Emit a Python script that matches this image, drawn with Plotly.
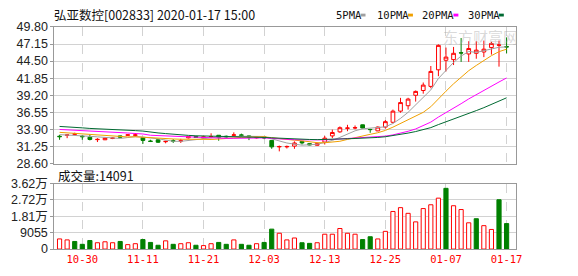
import plotly.graph_objects as go
import pandas as pd

# ---------------- data ----------------
dates = ["10-25", "10-28", "10-29", "10-30", "10-31", "11-01", "11-04", "11-05", "11-06", "11-07",
         "11-08", "11-11", "11-12", "11-13", "11-14", "11-15", "11-18", "11-19", "11-20", "11-21",
         "11-22", "11-25", "11-26", "11-27", "11-28", "11-29", "12-02", "12-03", "12-04", "12-05",
         "12-06", "12-09", "12-10", "12-11", "12-12", "12-13", "12-16", "12-17", "12-18", "12-19",
         "12-20", "12-23", "12-24", "12-25", "12-26", "12-27", "12-30", "12-31", "01-02", "01-03",
         "01-06", "01-07", "01-08", "01-09", "01-10", "01-13", "01-14", "01-15", "01-16", "01-17"]

opens = [32.85, 33.00, 33.15, 32.85, 32.70, 32.32, 32.30, 32.52, 32.90, 33.00,
         33.00, 32.65, 32.10, 32.30, 32.00, 32.15, 32.10, 32.60, 32.80, 32.55,
         32.75, 33.00, 32.85, 33.00, 33.05, 32.90, 32.60, 32.75, 32.20, 31.20,
         31.20, 31.31, 32.05, 31.70, 31.45, 31.95, 32.90, 33.53, 34.08, 34.13,
         34.62, 33.90, 33.68, 34.27, 35.01, 36.74, 37.58, 39.20, 39.94, 40.58,
         43.15, 44.63, 44.73, 45.80, 45.61, 45.71, 45.91, 46.60, 46.97, 46.75]
highs = [33.05, 33.15, 33.40, 33.05, 33.15, 32.55, 32.60, 32.70, 32.95, 33.15,
         33.35, 32.70, 32.30, 32.40, 32.15, 32.40, 32.45, 32.85, 32.85, 32.80,
         33.30, 33.00, 32.95, 33.45, 33.25, 32.95, 32.80, 32.80, 32.25, 31.40,
         31.40, 32.05, 32.05, 31.75, 31.90, 32.90, 33.88, 34.37, 34.62, 34.52,
         34.65, 34.00, 34.37, 35.36, 36.98, 38.80, 38.81, 39.94, 41.18, 43.74,
         47.09, 46.60, 46.70, 48.08, 47.58, 47.58, 47.68, 47.49, 47.68, 48.18]
lows = [32.30, 32.55, 33.05, 32.30, 32.20, 31.95, 32.25, 32.40, 32.65, 32.90,
        32.75, 31.66, 31.95, 31.80, 31.75, 31.81, 31.81, 32.50, 32.60, 32.50,
        32.55, 32.15, 32.60, 32.90, 32.80, 32.25, 32.50, 32.40, 30.90, 30.50,
        30.95, 30.90, 31.56, 31.45, 31.40, 31.56, 32.55, 33.38, 33.63, 33.93,
        34.05, 33.38, 33.63, 34.02, 34.86, 36.50, 36.98, 38.22, 39.45, 40.29,
        42.16, 42.90, 43.89, 44.38, 44.38, 44.87, 45.12, 45.51, 43.64, 45.71]
closes = [32.78, 33.05, 33.22, 32.78, 32.35, 32.36, 32.55, 32.56, 32.70, 33.06,
          33.05, 32.20, 32.05, 31.92, 32.05, 32.10, 32.15, 32.80, 32.65, 32.75,
          32.80, 32.65, 32.75, 33.05, 33.00, 32.72, 32.70, 32.60, 31.20, 31.25,
          31.26, 31.80, 31.81, 31.50, 31.70, 32.55, 33.43, 34.17, 34.12, 34.17,
          34.12, 33.88, 34.27, 35.11, 36.74, 38.07, 38.61, 39.80, 40.78, 42.90,
          46.94, 45.12, 45.71, 45.76, 46.45, 46.20, 46.35, 47.24, 47.00, 46.70]

volumes = [5600, 5070, 4200, 2620, 4720, 3500, 4020, 3500, 4200, 2450,
           2970, 5250, 3670, 2100, 4550, 2620, 2970, 3500, 2100, 1920,
           2970, 3670, 2620, 5070, 2620, 2100, 2970, 3670, 11020, 8750,
           5070, 6120, 3500, 3150, 3500, 8220, 8220, 11370, 8750, 8220,
           5250, 6820, 5600, 9800, 20800, 22900, 19760, 15040, 22390, 24490,
           28160, 33580, 23960, 21860, 14520, 16790, 12940, 10840, 27280, 14091]
vol_up = [1, 1, 0, 0, 0, 1, 1, 1, 0, 1, 1, 0, 0, 0, 1, 0, 1, 1, 0, 1,
          1, 0, 0, 1, 0, 0, 1, 0, 0, 1, 1, 1, 0, 0, 1, 1, 1, 1, 1, 1,
          0, 0, 1, 1, 1, 1, 1, 1, 1, 1, 1, 0, 1, 1, 1, 0, 1, 1, 0, 0]

# moving-average values at the start of the window (read from the chart,
# the windows reach back before the first visible day)
ma5_head = [33.10, 33.05, 33.05, 32.95]
ma10_head = [33.45, 33.38, 33.30, 33.20, 33.10, 33.00, 32.92, 32.85, 32.80]
ma20_head = [33.90, 33.85, 33.75, 33.70, 33.62, 33.58, 33.55, 33.45, 33.40, 33.35,
             33.27, 33.20, 33.00, 32.95, 32.90, 32.80, 32.75, 32.70, 32.62]
ma30_head = [34.37, 34.33, 34.22, 34.15, 34.06, 34.02, 33.97, 33.90, 33.86, 33.83,
             33.72, 33.65, 33.45, 33.36, 33.26, 33.14, 33.02, 32.98, 32.92, 32.90,
             32.88, 32.82, 32.80, 32.78, 32.72, 32.70, 32.68, 32.66, 32.60]

tick_dates = ["10-30", "11-11", "11-21", "12-03", "12-13", "12-25", "01-07", "01-17"]
price_ticks = [28.60, 31.25, 33.90, 36.55, 39.20, 41.85, 44.50, 47.15, 49.80]
vol_ticks = [0, 9055, 18110, 27165, 36220]
vol_tick_text = ["0", "9055", "1.81万", "2.72万", "3.62万"]

ma_names = ["5PMA", "10PMA", "20PMA", "30PMA"]
ma_colors = ["#a0a0a0", "#f0a000", "#ff00ff", "#006a32"]

title_text = "弘亚数控[002833] 2020-01-17 15:00"

# ---------------- derived ----------------
idx = list(range(len(dates)))
cs = pd.Series(closes)


def moving_average(n, head):
    roll = cs.rolling(n).mean().tolist()
    return [head[i] if i < n - 1 else roll[i] for i in range(len(closes))]


mas = [moving_average(5, ma5_head), moving_average(10, ma10_head),
       moving_average(20, ma20_head), moving_average(30, ma30_head)]

W, H = 578, 276
X0, X1 = 55, 522
PY0, PY1 = 21, 165
VY0, VY1 = 186, 255
RED = "#ff0000"
GREEN = "#008000"
GRID = "#d2d2d2"
FRAME = "#999999"
LATIN = "Liberation Sans"
CJK = "Noto Sans CJK SC"

fig = go.Figure()

fig.add_trace(go.Candlestick(
    x=idx, open=opens, high=highs, low=lows, close=closes,
    increasing=dict(line=dict(color=RED, width=1), fillcolor="#ffffff"),
    decreasing=dict(line=dict(color=GREEN, width=1), fillcolor=GREEN),
    whiskerwidth=0, showlegend=False, hoverinfo="skip",
    xaxis="x", yaxis="y"))

for name, col, ma in zip(ma_names, ma_colors, mas):
    fig.add_trace(go.Scatter(x=idx, y=ma, mode="lines", name=name,
                             line=dict(color=col, width=1),
                             showlegend=False, hoverinfo="skip",
                             xaxis="x", yaxis="y"))

fig.add_trace(go.Bar(
    x=idx, y=volumes, width=0.55,
    marker=dict(color=["#ffffff" if u else GREEN for u in vol_up],
                line=dict(color=[RED if u else GREEN for u in vol_up], width=1)),
    showlegend=False, hoverinfo="skip", xaxis="x2", yaxis="y2"))

tickvals_x = [dates.index(d) for d in tick_dates]
xr = [-0.69, 60.2]
common_x = dict(range=xr, domain=[X0 / W, X1 / W], tickvals=tickvals_x,
                showgrid=True, gridcolor=GRID, griddash="dash", gridwidth=1,
                showline=True, mirror=True, linecolor=FRAME, linewidth=1,
                zeroline=False, ticks="", fixedrange=True)

fig.update_layout(
    width=W, height=H, autosize=False,
    margin=dict(l=0, r=0, t=0, b=0),
    paper_bgcolor="#ffffff", plot_bgcolor="#ffffff",
    showlegend=False,
    xaxis=dict(**common_x, anchor="y", showticklabels=False,
               rangeslider=dict(visible=False)),
    yaxis=dict(domain=[1 - PY1 / H, 1 - PY0 / H], range=[price_ticks[0], price_ticks[-1]],
               tickvals=price_ticks, ticktext=[f"{v:.2f}" for v in price_ticks],
               showgrid=True, gridcolor=GRID, gridwidth=1,
               showline=True, mirror=True, linecolor=FRAME, linewidth=1,
               zeroline=False, ticks="outside", ticklen=3, tickcolor=FRAME,
               tickfont=dict(family=LATIN, size=12.5, color="#222222"),
               anchor="x", fixedrange=True),
    xaxis2=dict(**common_x, anchor="y2", showticklabels=True,
                ticktext=tick_dates,
                tickfont=dict(family="DejaVu Sans Mono", size=10.5, color=RED)),
    yaxis2=dict(domain=[1 - VY1 / H, 1 - VY0 / H], range=[0, vol_ticks[-1]],
                tickvals=vol_ticks, ticktext=vol_tick_text,
                showgrid=True, gridcolor=GRID, gridwidth=1,
                showline=True, mirror=True, linecolor=FRAME, linewidth=1,
                zeroline=False, ticks="outside", ticklen=3, tickcolor=FRAME,
                tickfont=dict(family=f"{LATIN}, {CJK}", size=12.5, color="#222222"),
                anchor="x2", fixedrange=True),
)

ann = []
ann.append(dict(text=title_text, x=53 / W, y=1 - 7.5 / H, xref="paper", yref="paper",
                xanchor="left", yanchor="middle", showarrow=False,
                font=dict(family=CJK, size=12.5, color="#111111")))
ann.append(dict(text=f"成交量:{volumes[-1]}", x=57 / W, y=1 - 177 / H, xref="paper", yref="paper",
                xanchor="left", yanchor="middle", showarrow=False,
                font=dict(family=CJK, size=12.5, color="#111111")))
# watermark
ann.append(dict(text="东方财富网", x=486 / W, y=1 - 31 / H, xref="paper", yref="paper",
                xanchor="center", yanchor="middle", showarrow=False,
                font=dict(family=CJK, size=15, color="rgba(170,170,170,0.45)")))

shapes = []
leg_x = [338, 380, 425, 472]
sq_x = [365, 413, 459, 505]
for name, col, lx, sx in zip(ma_names, ma_colors, leg_x, sq_x):
    ann.append(dict(text=name, x=lx / W, y=1 - 8.5 / H, xref="paper", yref="paper",
                    xanchor="left", yanchor="middle", showarrow=False,
                    font=dict(family="DejaVu Sans Mono", size=10.5, color="#111111")))
    shapes.append(dict(type="rect", xref="paper", yref="paper",
                       x0=sx / W, x1=(sx + 5) / W, y0=1 - 10 / H, y1=1 - 7 / H,
                       fillcolor=col, line=dict(width=0)))

fig.update_layout(annotations=ann, shapes=shapes)

fig.write_html("out.html")
